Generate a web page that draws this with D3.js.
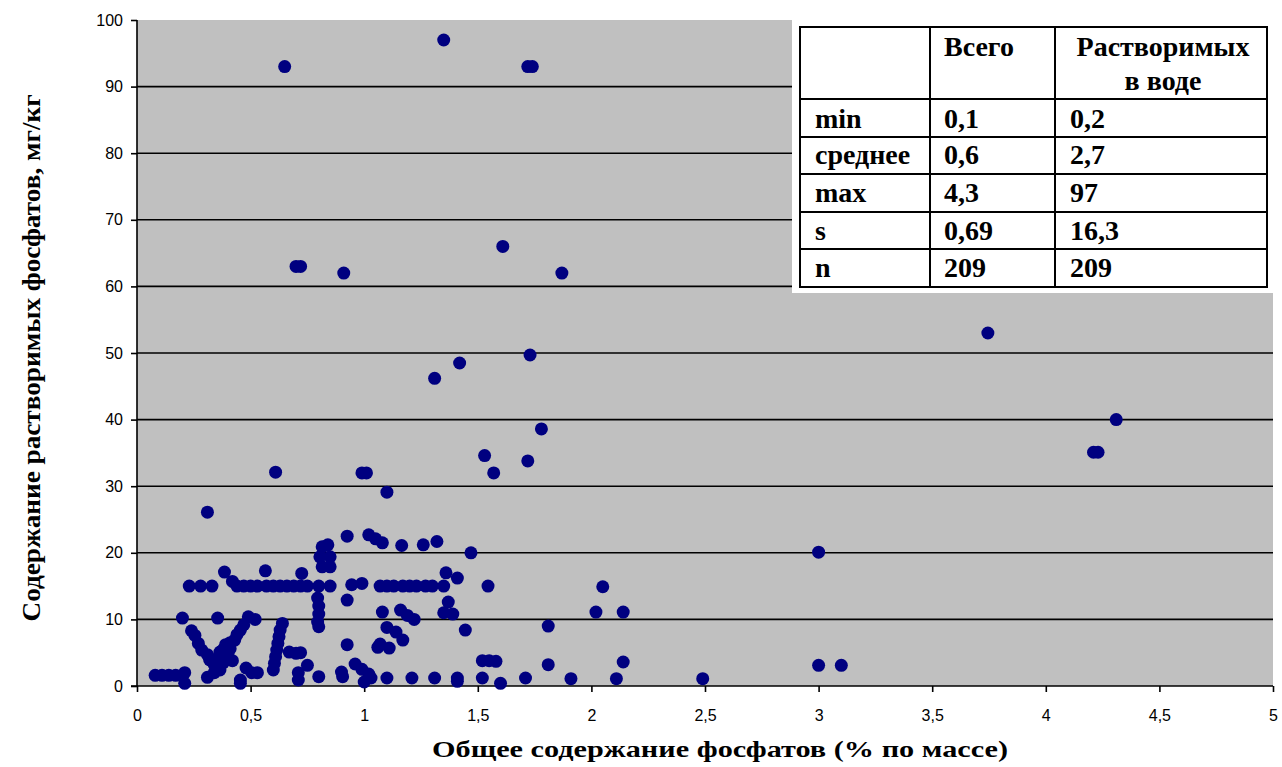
<!DOCTYPE html>
<html><head><meta charset="utf-8">
<script src="https://cdn.jsdelivr.net/npm/d3@7"></script>
<style>
html,body{margin:0;padding:0;background:#fff;}
svg{display:block;}
</style></head>
<body>
<svg id="chart" width="1282" height="767"></svg>
<script>
// ---- data ----
const xTotal = [
1.35,0.65,1.72,1.74,0.70,0.72,0.91,1.61,1.87,1.31,1.42,1.73,1.78,1.53,1.57,1.72,0.61,0.99,1.01,1.10,0.31,3.745,4.31,4.21,4.23,3.00,2.05,2.02,2.14,1.81,2.14,1.81,1.91,2.11,2.49,3.00,3.10,
0.925,1.02,1.05,1.08,1.165,1.26,1.32,1.47,0.815,0.84,0.805,0.85,0.815,0.85,
0.23,0.28,0.33,0.385,0.42,0.44,0.47,0.50,0.53,0.565,0.57,0.60,0.63,0.66,0.69,0.725,0.72,0.75,0.80,0.85,0.945,0.99,1.07,1.10,1.13,1.17,1.20,1.23,1.27,1.30,1.35,1.36,1.41,1.545,
0.925,0.795,0.80,0.80,0.795,0.80,1.08,1.16,1.19,1.22,1.37,1.35,1.39,1.445,1.10,1.14,1.17,1.07,1.11,1.06,0.925,0.20,0.355,0.49,0.52,
0.08,0.11,0.14,0.17,0.21,0.21,0.255,0.27,0.285,0.31,0.32,0.34,0.35,0.365,0.39,0.41,0.43,0.44,0.455,0.47,0.36,0.38,0.40,0.42,0.38,0.41,0.31,0.34,0.365,0.455,0.48,0.505,0.455,0.53,
0.60,0.605,0.61,0.615,0.62,0.625,0.63,0.64,0.67,0.70,0.72,0.71,0.71,0.75,0.80,0.905,0.90,0.96,0.99,1.02,1.00,1.03,1.10,1.21,1.31,1.41,1.41,1.52,1.60,1.71,1.52,1.55,1.58,0.24
];
const ySoluble = [
97,93,93,93,63,63,62,66,62,46.2,48.5,49.7,38.6,34.6,32,33.8,32.1,32,32,29.1,26.1,53,40,35.1,35.1,20.1,14.9,11.1,11.1,9.0,3.6,3.2,1.1,1.1,1.1,3.1,3.1,
22.5,22.7,22.1,21.5,21.1,21.2,21.7,20.0,20.9,21.2,19.4,19.4,17.9,17.9,
15,15,15,17.1,15.7,15,15,15,15,17.3,15,15,15,15,15,16.9,15,15,15,15,15.2,15.4,15,15,15,15,15,15,15,15,15,17.0,16.2,15,
12.9,13.2,12.0,10.8,9.6,8.9,11.1,11.4,10.6,10.0,12.6,11.0,10.8,8.4,8.8,8.1,6.9,6.3,5.7,5.8,6.2,10.2,10.2,10.4,10.0,
1.6,1.6,1.6,1.6,2.0,0.4,7.6,6.4,5.4,4.7,3.9,3.2,2.6,5.1,6.2,6.5,6.9,7.7,8.4,9.2,4.4,3.5,4.8,3.8,5.5,5.6,1.3,2.0,2.4,0.9,2.7,2.0,0.4,2.0,
2.4,3.4,4.4,5.4,6.4,7.4,8.4,9.4,5.1,4.9,5.0,2.0,0.9,3.1,1.4,1.4,2.1,3.3,2.5,1.8,0.6,1.2,1.2,1.2,1.2,1.2,0.7,1.2,0.4,1.2,3.8,3.8,3.7,8.3
];
const xTicks = [0,0.5,1,1.5,2,2.5,3,3.5,4,4.5,5];
const xTickLabels = ["0","0,5","1","1,5","2","2,5","3","3,5","4","4,5","5"];
const yTicks = [0,10,20,30,40,50,60,70,80,90,100];
const tableHeader = ["", "Всего", "Растворимых|в воде"];
const tableRows = ["min","среднее","max","s","n"];
const tableTotal = ["0,1","0,6","4,3","0,69","209"];
const tableSoluble = ["0,2","2,7","97","16,3","209"];
const xTitle = "Общее содержание фосфатов (% по массе)";
const yTitle = "Содержание растворимых фосфатов, мг/кг";

// ---- drawing ----
const svg = d3.select("#chart");
const L = 137, R = 1273, T = 20, B = 686;
const x = d3.scaleLinear().domain([0,5]).range([L,R]);
const y = d3.scaleLinear().domain([0,100]).range([B,T]);
const serif = "'Liberation Serif','Times New Roman',serif";
const sans = "'Liberation Sans',Arial,sans-serif";

svg.append("rect").attr("x",L).attr("y",T).attr("width",R-L).attr("height",B-T).attr("fill","#c0c0c0");

// gridlines
svg.append("g").selectAll("line").data(yTicks.filter(d=>d>0 && d<100)).join("line")
  .attr("x1",L).attr("x2",R).attr("y1",d=>y(d)).attr("y2",d=>y(d))
  .attr("stroke","#000").attr("stroke-width",1.6);

// y axis
const yAxis = svg.append("g").attr("transform",`translate(${L},0)`)
  .call(d3.axisLeft(y).tickValues(yTicks).tickSize(6).tickPadding(8).tickFormat(d=>d));
yAxis.select(".domain").attr("stroke","#000").attr("stroke-width",1.6).attr("d",`M-6,${B}H0V${T}`);
yAxis.selectAll(".tick line").attr("stroke","#000").attr("stroke-width",1.6);
yAxis.selectAll(".tick text").attr("font-family",sans).attr("font-size",16).attr("fill","#000");

// x axis
const xAxis = svg.append("g").attr("transform",`translate(0,${B})`)
  .call(d3.axisBottom(x).tickValues(xTicks).tickSize(6).tickPadding(18).tickFormat((d,i)=>xTickLabels[i]));
xAxis.select(".domain").attr("stroke","#000").attr("stroke-width",1.6).attr("d",`M${L},0H${R}`);
xAxis.selectAll(".tick line").attr("stroke","#000").attr("stroke-width",1.6);
xAxis.selectAll(".tick text").attr("font-family",sans).attr("font-size",16).attr("fill","#000");

// points
svg.append("g").selectAll("circle").data(xTotal.map((d,i)=>[d,ySoluble[i]])).join("circle")
  .attr("cx",d=>x(d[0])).attr("cy",d=>y(d[1])).attr("r",6.5).attr("fill","#000080");

// titles
svg.append("text").attr("x",720).attr("y",757).attr("text-anchor","middle")
  .attr("font-family",serif).attr("font-weight","bold").attr("font-size",24)
  .attr("textLength",576).attr("lengthAdjust","spacingAndGlyphs").attr("fill","#000").text(xTitle);
svg.append("text").attr("transform","translate(40,358) rotate(-90)").attr("text-anchor","middle")
  .attr("font-family",serif).attr("font-weight","bold").attr("font-size",25)
  .attr("textLength",527).attr("lengthAdjust","spacingAndGlyphs").attr("fill","#000").text(yTitle);

// stats table
const tg = svg.append("g");
tg.append("rect").attr("x",792).attr("y",T).attr("width",483).attr("height",273).attr("fill","#fff");
const colX = [800,930,1055,1267];
const rowY = [27,99,137,174,212,249,287];
tg.append("rect").attr("x",colX[0]).attr("y",rowY[0]).attr("width",colX[3]-colX[0]).attr("height",rowY[6]-rowY[0])
  .attr("fill","none").attr("stroke","#000").attr("stroke-width",2);
colX.slice(1,3).forEach(cx=>tg.append("line").attr("x1",cx).attr("x2",cx).attr("y1",rowY[0]).attr("y2",rowY[6]).attr("stroke","#000").attr("stroke-width",2));
rowY.slice(1,6).forEach(ry=>tg.append("line").attr("x1",colX[0]).attr("x2",colX[3]).attr("y1",ry).attr("y2",ry).attr("stroke","#000").attr("stroke-width",2));
const tstyle = s=>s.attr("font-family",serif).attr("font-weight","bold").attr("font-size",28).attr("fill","#000");
tg.append("text").attr("x",944).attr("y",56).text(tableHeader[1]).call(tstyle);
const h2 = tableHeader[2].split("|");
tg.append("text").attr("x",1163).attr("y",56).attr("text-anchor","middle").text(h2[0]).call(tstyle);
tg.append("text").attr("x",1163).attr("y",90).attr("text-anchor","middle").text(h2[1]).call(tstyle);
const baselines = [128,164,202,240,277];
tableRows.forEach((r,i)=>{
  tg.append("text").attr("x",815).attr("y",baselines[i]).text(r).call(tstyle);
  tg.append("text").attr("x",944).attr("y",baselines[i]).text(tableTotal[i]).call(tstyle);
  tg.append("text").attr("x",1070).attr("y",baselines[i]).text(tableSoluble[i]).call(tstyle);
});
</script>
</body></html>
